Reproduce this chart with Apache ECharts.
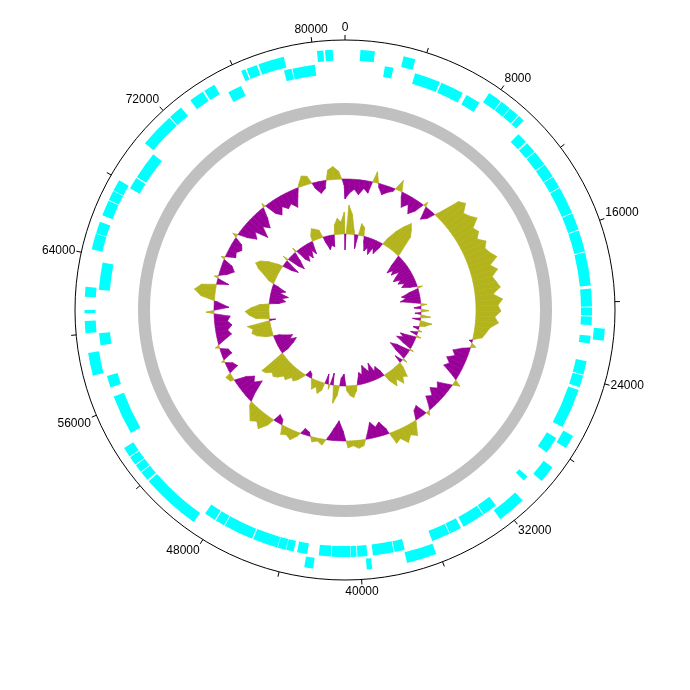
<!DOCTYPE html>
<html><head><meta charset="utf-8">
<script src="https://cdn.jsdelivr.net/npm/echarts@6/dist/echarts.min.js"></script>
<style>html,body{margin:0;padding:0;background:#fff}#c{width:690px;height:690px}</style>
</head><body><div id="c"></div>
<script>
// ---------------- data ----------------
const genomeLength = 81600;
const tickStep = 4000;
const labelStep = 8000;

// genes on forward strand (outer track) [start, end] in bp
const forwardGenes = [[771,1496],[2947,3559],[7616,8319],[8364,8885],[8908,9429],[9497,9815],[21330,21941],[26951,27653],[28832,29693],[31053,32504],[36153,37672],[39440,39712],[42387,42840],[48847,51884],[51975,52451],[52497,52905],[52949,53403],[53448,53947],[57891,59047],[60044,60656],[61041,61200],[61859,62357],[64260,65053],[65077,65689],[66028,66821],[66867,67365],[67388,67977],[70221,71989],[72035,72760],[73349,74097],[74188,74777],[76275,76500],[76568,77113],[77204,78518],[80195,80512],[80603,80989]];

// genes on reverse strand (inner track)
const reverseGenes = [[2108,2561],[3740,5123],[5213,6460],[6687,7480],[10109,10676],[10767,11356],[11401,12195],[12240,12965],[13011,13645],[13691,15141],[15187,16093],[16139,17295],[17340,19108],[19267,20219],[20264,20695],[20740,21193],[21760,22168],[23120,23845],[23891,24525],[24684,26815],[27472,28379],[30011,30283],[32255,33048],[33093,34295],[34453,35088],[35133,36108],[37627,38171],[38216,39327],[39621,40143],[40188,40483],[40505,41503],[41548,42183],[42795,43339],[43520,43929],[43951,44382],[44405,45743],[45811,47397],[47442,47941],[48009,48621],[54423,56553],[57052,57687],[59341,59976],[62266,63715],[67887,68521],[68589,70063],[75208,75956],[78359,78767],[78813,80013]];

// GC plots: one value per window of gcStep bp (deviation from average)
const gcStep = 500;
const gcContent = [-20,-14,-10,-15,-8,-12,11,-4,-10,-6,-3,11,-5,-14,-8,-16,-10,5,-13,-8,
5,26,30,22,25,30,21,24,19,26,22,25,30,21,27,20,23,26,18,27,
22,25,19,23,15,12,9,-3,5,-8,-16,-12,-19,-14,-18,-5,7,-4,-14,-10,
-16,-9,-13,-3,4,-12,-9,3,14,10,16,9,12,-6,-14,-10,-16,-5,6,8,
5,7,-10,-20,-12,-3,6,3,5,-4,-6,4,10,7,9,-5,-8,8,16,11,
15,9,4,-8,-22,-15,-19,-12,4,6,-10,-7,3,-10,-8,4,-6,-15,-12,-17,
-13,-16,8,-15,-4,14,21,15,-12,4,-8,-14,-10,4,-10,-8,-12,-9,5,-10,
-18,-12,-25,-14,-20,-11,4,-12,-17,-10,-15,-12,-18,-8,3,10,8,-6,-12,-8,
10,13,8,-6];
const gcSkew = [-16,29,20,4,-14,12,9,-6,-14,-10,-16,-8,-13,-6,8,18,26,33,28,22,
4,-12,-20,-14,-18,-10,-16,-20,-13,-17,-11,-15,-8,5,-10,-18,-14,-20,-8,6,
-7,8,-6,10,-8,12,6,-6,4,-7,5,-16,-12,-18,-10,4,-14,-20,-12,5,
-8,6,15,12,18,10,16,8,-6,-12,-8,-18,-10,-14,-18,-9,-12,-4,6,12,
10,5,-12,-8,10,18,-12,5,-10,8,12,6,10,3,-4,-6,2,8,12,10,
16,14,19,22,20,25,27,-8,-16,-20,-14,-18,-12,-6,8,16,20,18,23,-6,
14,20,24,18,10,-10,-16,-12,-18,-9,-14,-6,6,12,20,25,22,15,5,-10,
-16,6,-12,-18,-10,5,-12,-16,-10,-15,-8,-13,6,12,10,8,-6,-14,-10,-12,
10,16,12,22];

// ---------------- layout / style ----------------
const CX = 345, CY = 310, R_OUT = 270;
const TRACK_FWD = [249.5, 260.5];
const TRACK_REV = [236, 247];
const RING = [195, 207];
const GC_BASE = 131;
const SKEW_BASE = 76;
const CYAN = '#00FFFF', GREY = '#C0C0C0', OLIVE = '#B3B31C', PURPLE = '#990099';

function angOf(p, cs) { return Math.atan2(p[1] - cs.cy, p[0] - cs.cx); }

function sectorRender(r0, r1, color) {
  return function (params, api) {
    const cs = params.coordSys;
    const s0 = api.value(1), s1 = api.value(2);
    const a = api.coord([r1, s0]), b = api.coord([r1, s1]), c = api.coord([r0, s0]);
    let sa = angOf(a, cs), ea = angOf(b, cs);
    if (s1 - s0 >= genomeLength) { ea = sa + Math.PI * 2; }
    else if (ea < sa) ea += Math.PI * 2;
    const rad1 = Math.hypot(a[0] - cs.cx, a[1] - cs.cy);
    const rad0 = Math.hypot(c[0] - cs.cx, c[1] - cs.cy);
    return { type: 'sector', shape: { cx: cs.cx, cy: cs.cy, r0: rad0, r: rad1, startAngle: sa, endAngle: ea, clockwise: true },
      style: { fill: color } };
  };
}

function gcRender(base) {
  return function (params, api) {
    const p0 = api.value(1), v0 = api.value(2), p1 = api.value(3), v1 = api.value(4);
    const pt = (r, a) => { const c = api.coord([r, a]); return [c[0], c[1]]; };
    const children = [];
    const poly = (pts, v) => {
      const col = v >= 0 ? OLIVE : PURPLE;
      children.push({ type: 'polygon', shape: { points: pts }, style: { fill: col, stroke: col, lineWidth: 0.6 } });
    };
    if (v0 * v1 >= 0) {
      const v = v0 !== 0 ? v0 : v1;
      poly([pt(base, p0), pt(base + v0, p0), pt(base + v1, p1), pt(base, p1)], v);
    } else {
      const t = v0 / (v0 - v1);
      const pc = p0 + t * (p1 - p0);
      poly([pt(base, p0), pt(base + v0, p0), pt(base, pc)], v0);
      poly([pt(base, pc), pt(base + v1, p1), pt(base, p1)], v1);
    }
    return { type: 'group', children: children };
  };
}

function gcData(values) {
  const n = values.length;
  return values.map((v, i) => {
    const j = (i + 1) % n;
    const pNext = i + 1 < n ? (i + 1) * gcStep : genomeLength;
    return [0, i * gcStep, v, pNext, values[j]];
  });
}

const chart = echarts.init(document.getElementById('c'), null, { renderer: 'canvas' });
chart.setOption({
  animation: false,
  backgroundColor: '#fff',
  polar: { center: [CX, CY], radius: R_OUT },
  angleAxis: {
    type: 'value', min: 0, max: genomeLength, interval: tickStep,
    startAngle: 90, clockwise: true,
    axisLine: { show: true, lineStyle: { color: '#000', width: 1 } },
    axisTick: { show: true, length: 5, lineStyle: { color: '#000', width: 1 } },
    axisLabel: {
      show: true, margin: 6, color: '#000', fontSize: 12,
      fontFamily: '"Liberation Sans", Arial, sans-serif',
      formatter: v => (v % labelStep === 0 && v < genomeLength) ? String(v) : ''
    },
    splitLine: { show: false }, splitArea: { show: false }
  },
  radiusAxis: {
    type: 'value', min: 0, max: R_OUT, show: false,
    axisLine: { show: false }, axisTick: { show: false }, axisLabel: { show: false },
    splitLine: { show: false }
  },
  series: [
    { type: 'custom', coordinateSystem: 'polar', renderItem: sectorRender(TRACK_FWD[0], TRACK_FWD[1], CYAN),
      data: forwardGenes.map(g => [0, g[0], g[1]]), encode: { radius: 0, angle: 1 }, silent: true },
    { type: 'custom', coordinateSystem: 'polar', renderItem: sectorRender(TRACK_REV[0], TRACK_REV[1], CYAN),
      data: reverseGenes.map(g => [0, g[0], g[1]]), encode: { radius: 0, angle: 1 }, silent: true },
    { type: 'custom', coordinateSystem: 'polar', renderItem: sectorRender(RING[0], RING[1], GREY),
      data: [[0, 0, genomeLength]], encode: { radius: 0, angle: 1 }, silent: true },
    { type: 'custom', coordinateSystem: 'polar', renderItem: gcRender(GC_BASE),
      data: gcData(gcContent), encode: { radius: 0, angle: 1 }, silent: true },
    { type: 'custom', coordinateSystem: 'polar', renderItem: gcRender(SKEW_BASE),
      data: gcData(gcSkew), encode: { radius: 0, angle: 1 }, silent: true }
  ]
});
</script>
</body></html>
